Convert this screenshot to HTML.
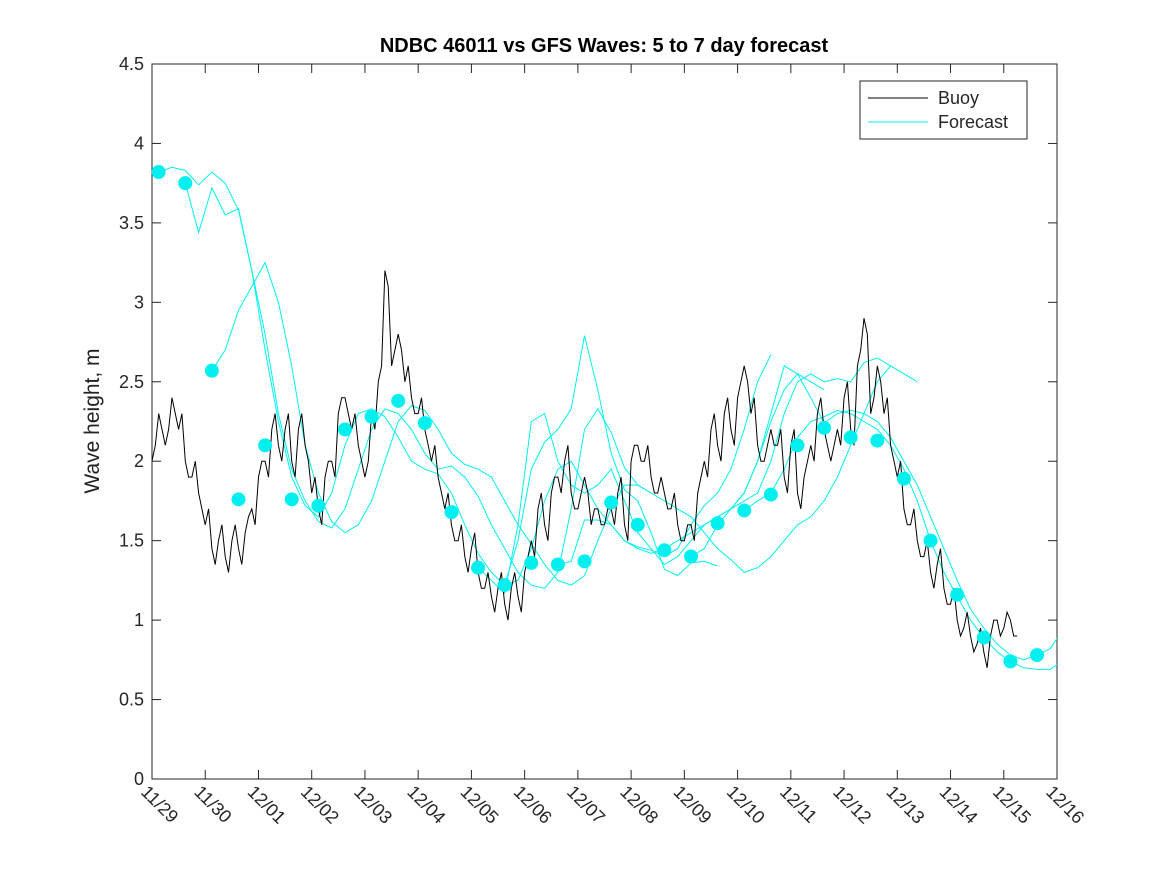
<!DOCTYPE html>
<html><head><meta charset="utf-8"><style>
body{margin:0;background:#fff;}
svg{display:block;font-family:"Liberation Sans","DejaVu Sans",sans-serif;}
</style></head><body>
<svg id="chart" width="1167" height="875">
<defs><clipPath id="clip"><rect x="152" y="64" width="905" height="715"/></clipPath></defs>
<rect width="1167" height="875" fill="#fff"/>
<text x="604" y="52" text-anchor="middle" font-size="20" font-weight="bold" fill="#000">NDBC 46011 vs GFS Waves: 5 to 7 day forecast</text>
<text transform="translate(99,421) rotate(-90)" text-anchor="middle" font-size="21" fill="#222">Wave height, m</text>
<g id="plot"></g>
</svg>
<script>
const xTickLabels=["11/29","11/30","12/01","12/02","12/03","12/04","12/05","12/06","12/07","12/08","12/09","12/10","12/11","12/12","12/13","12/14","12/15","12/16"];
const yTickValues=[0,0.5,1,1.5,2,2.5,3,3.5,4,4.5];
const buoyStep=0.125;
const buoyValues=[2.0,2.3,2.1,2.4,2.2,2.0,1.9,1.8,
1.6,1.45,1.5,1.4,1.5,1.45,1.55,1.7,
1.9,2.0,2.2,2.1,2.2,2.0,2.2,2.1,
1.8,1.7,1.9,2.0,2.3,2.4,2.2,2.1,
1.9,2.3,2.5,3.2,2.6,2.8,2.5,2.4,
2.3,2.2,2.0,1.9,1.7,1.6,1.5,1.4,
1.45,1.3,1.2,1.15,1.2,1.1,1.2,1.15,
1.3,1.5,1.7,1.6,1.8,1.9,2.0,1.8,
1.7,1.9,1.6,1.7,1.6,1.7,1.8,1.6,
2.0,2.1,2.0,1.9,1.8,1.8,1.7,1.6,
1.5,1.6,1.8,2.0,2.2,2.1,2.3,2.2,
2.4,2.6,2.3,2.1,2.0,2.2,2.1,1.9,
2.1,1.8,1.9,2.1,2.3,2.2,2.0,2.2,
2.4,2.2,2.6,2.9,2.3,2.6,2.3,2.1,
1.9,1.7,1.6,1.5,1.4,1.3,1.35,1.2,
1.1,1.0,0.95,0.9,0.85,0.8,0.9,1.0,
0.95,1.0,0.9];
const dotStart=0.125, dotStep=0.5;
const dotValues=[3.82,3.75,2.57,1.76,2.10,1.76,1.72,2.20,2.28,2.38,2.24,1.68,1.33,1.22,1.36,1.35,1.37,1.74,1.60,1.44,1.40,1.61,1.69,1.79,2.10,2.21,2.15,2.13,1.89,1.50,1.16,0.89,0.74,0.78];
const fcStep=0.25;
const fc1Start=0.125;
const fc1Values=[3.82,3.85,3.83,3.74,3.82,3.75,3.58,3.2,2.7,2.25,1.9,1.72,1.65,1.8,2.1,2.3,2.33,2.28,2.15,2.0,1.95,1.92,1.8,1.6,1.42,1.3,1.22,1.25,1.45,1.75,1.95,2.0,1.85,1.7,1.6,1.5,1.45,1.42,1.45,1.5,1.55,1.6,1.65,1.7,1.8,2.0,2.25,2.45,2.55,2.5,2.45];
const fc2Start=0.625;
const fc2Values=[3.75,3.44,3.72,3.55,3.59,3.2,2.8,2.3,1.95,1.75,1.62,1.58,1.7,1.95,2.2,2.33,2.3,2.2,2.05,1.95,1.97,1.9,1.78,1.6,1.45,1.3,1.22,1.2,1.3,1.7,2.2,2.33,2.18,1.96,1.85,1.8];
const fc3Start=1.125;
const fc3Values=[2.57,2.7,2.95,3.1,3.25,3.0,2.6,2.1,1.8,1.62,1.55,1.6,1.75,2.0,2.25,2.35,2.32,2.2,2.05,1.98,1.95,1.9,1.75,1.6,1.48,1.35,1.25,1.22,1.28,1.5,1.7,1.85,1.85,1.8,1.75,1.7,1.65,1.55,1.45,1.38,1.3,1.33,1.4,1.5,1.6,1.65,1.75,1.9,2.1,2.3,2.5,2.6,2.55,2.5];
const fc4Start=6.125;
const fc4Values=[1.33,1.25,1.17,1.6,2.25,2.3,2.0,1.85,1.8,1.85,1.95,1.75,1.55,1.45,1.35,1.4,1.5,1.6,1.65,1.7,1.8,2.0,2.3,2.6,2.55,2.4,2.24,2.3,2.32,2.3,2.25,2.15,2.0,1.85,1.65,1.45,1.25,1.07,0.95,0.85,0.78,0.75,0.78,0.82,0.95];
const fc5Start=6.625;
const fc5Values=[1.22,1.5,1.95,2.12,2.2,2.33,2.79,2.45,2.05,1.82,1.75,1.55,1.32,1.28,1.36,1.37,1.34];
const fc6Start=7.625;
const fc6Values=[1.35,1.37,1.63,1.63,1.6,1.5,1.46,1.44,1.4,1.45,1.6,1.72,1.8,1.95,2.2,2.5,2.67];
const fc7Start=10.125;
const fc7Values=[1.4,1.45,1.6,1.7,1.75,1.8,2.0,2.3,2.5,2.55,2.5,2.52,2.5,2.62,2.65,2.6];
const fc8Start=11.125;
const fc8Values=[1.69,1.75,1.8,1.95,2.15,2.25,2.28,2.32,2.3,2.25,2.2,2.1,1.95,1.75,1.5,1.3,1.15,1.0,0.89,0.8,0.74,0.7,0.69,0.69,0.75,1.13];

const X0=152,X1=1057,Y0=779,Y1=64;
const xs=d=>X0+(X1-X0)*d/17;
const ys=v=>Y0-(Y0-Y1)*v/4.5;
const NS="http://www.w3.org/2000/svg";
const plot=document.getElementById('plot');
function mk(tag,attrs,parent){const e=document.createElementNS(NS,tag);for(const k in attrs)e.setAttribute(k,attrs[k]);(parent||plot).appendChild(e);return e;}

const bg=mk('rect',{x:X0,y:Y1,width:X1-X0,height:Y0-Y1,fill:'#fff',stroke:'#262626','stroke-width':1});



yTickValues.forEach(v=>{
  const y=ys(v);
  mk('line',{x1:X0,x2:X0+9,y1:y,y2:y,stroke:'#262626'});
  mk('line',{x1:X1,x2:X1-9,y1:y,y2:y,stroke:'#262626'});
  const t=mk('text',{x:X0-8,y:y+6,'text-anchor':'end','font-size':18,fill:'#262626'});
  t.textContent=String(v);
  
  
});
xTickLabels.forEach((lab,i)=>{
  const x=xs(i);
  mk('line',{x1:x,x2:x,y1:Y0,y2:Y0-9,stroke:'#262626'});
  mk('line',{x1:x,x2:x,y1:Y1,y2:Y1+9,stroke:'#262626'});
  const t=mk('text',{transform:`translate(${x-12},${Y0+14}) rotate(45)`,'font-size':18,fill:'#262626'});
  t.textContent=lab;
  
  
});

const data=mk('g',{'clip-path':'url(#clip)'});
function line(start,step,vals,color,w,name){
  const pts=vals.map((v,i)=>xs(start+i*step).toFixed(1)+','+ys(v).toFixed(1)).join(' ');
  const p=mk('polyline',{points:pts,fill:'none',stroke:color,'stroke-width':w},data);
  
  
}
line(fc1Start,fcStep,fc1Values,'#00f0f0',1,'forecast-line-1');
line(fc2Start,fcStep,fc2Values,'#00f0f0',1,'forecast-line-2');
line(fc3Start,fcStep,fc3Values,'#00f0f0',1,'forecast-line-3');
line(fc4Start,fcStep,fc4Values,'#00f0f0',1,'forecast-line-4');
line(fc5Start,fcStep,fc5Values,'#00f0f0',1,'forecast-line-5');
line(fc6Start,fcStep,fc6Values,'#00f0f0',1,'forecast-line-6');
line(fc7Start,fcStep,fc7Values,'#00f0f0',1,'forecast-line-7');
line(fc8Start,fcStep,fc8Values,'#00f0f0',1,'forecast-line-8');
(function(){
  let pts=[];
  buoyValues.forEach((v,i)=>{
    pts.push(xs(i*buoyStep).toFixed(1)+','+ys(v).toFixed(1));
    const nxt=buoyValues[i+1];
    if(nxt!==undefined){
      const mid=(i+0.5)*buoyStep;
      const up=(i%2===0)?0.1:-0.1;
      pts.push(xs(mid).toFixed(1)+','+ys(v+up).toFixed(1));
    }
  });
  const p=mk('polyline',{points:pts.join(' '),fill:'none',stroke:'#000','stroke-width':1},data);
  
  
})();
dotValues.forEach((v,i)=>{
  const c=mk('circle',{cx:xs(dotStart+i*dotStep),cy:ys(v),r:7,fill:'#00f0f0'});
  
  
});

const lg=mk('g',{});


mk('rect',{x:860,y:81,width:167,height:58,fill:'#fff',stroke:'#262626'},lg);
mk('line',{x1:868,x2:928,y1:98,y2:98,stroke:'#000'},lg);
mk('line',{x1:868,x2:928,y1:122,y2:122,stroke:'#00f0f0'},lg);
const t1=mk('text',{x:938,y:104,'font-size':18,fill:'#262626'},lg);t1.textContent='Buoy';


const t2=mk('text',{x:938,y:128,'font-size':18,fill:'#262626'},lg);t2.textContent='Forecast';


</script>
</body></html>
